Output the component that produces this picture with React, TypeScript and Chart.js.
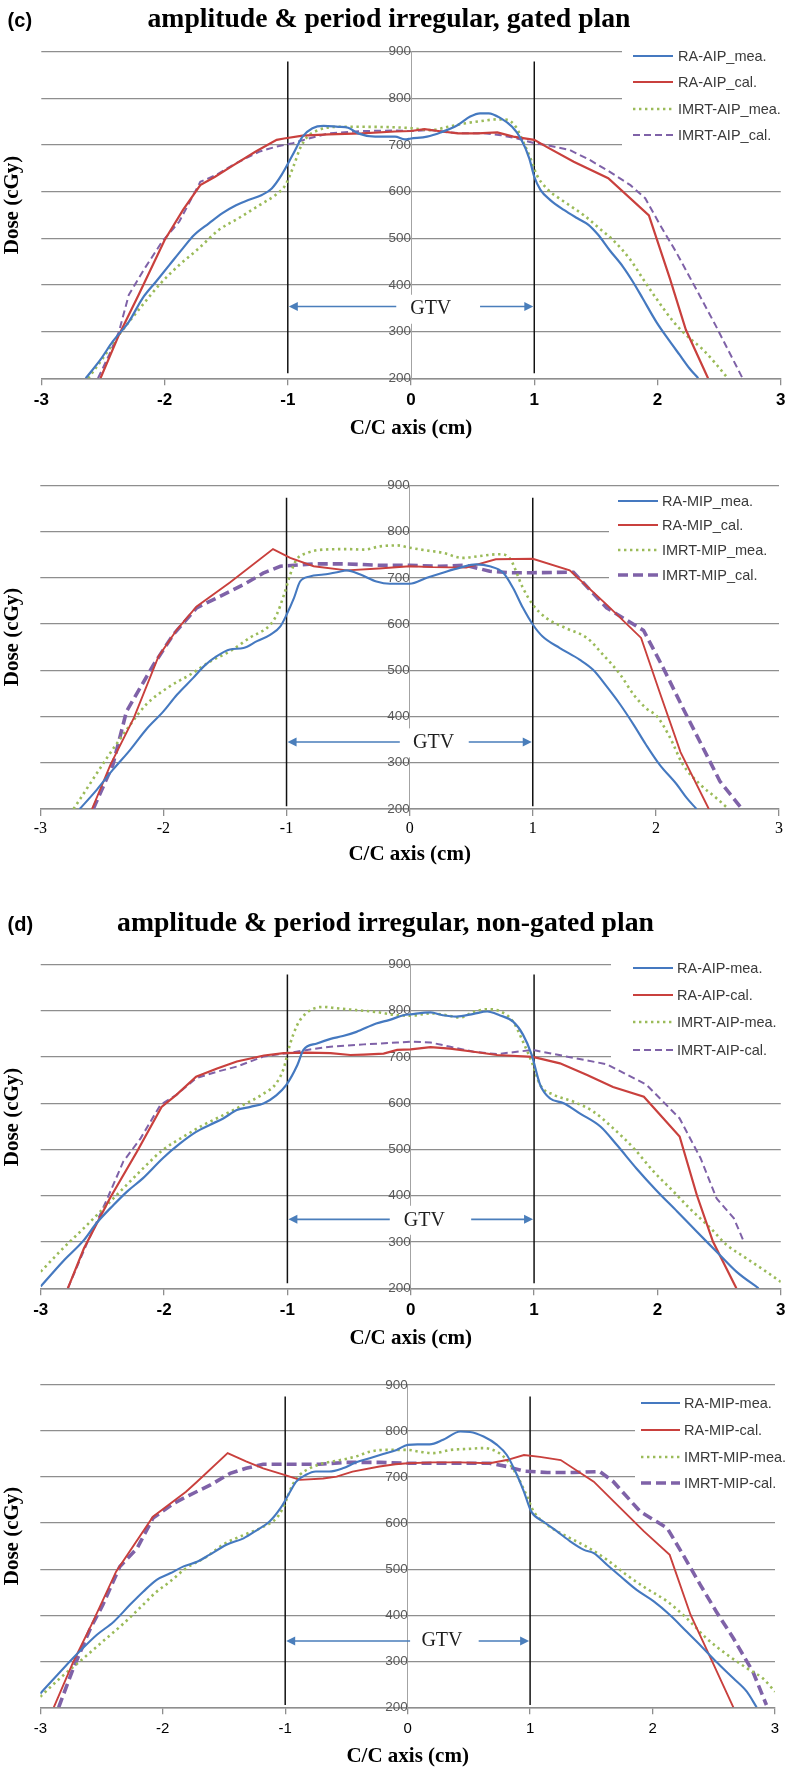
import React, { useEffect, useRef } from 'react';
import { Chart, registerables } from 'chart.js';

Chart.register(...registerables);

type Pt = [number, number];

// ---------------- data ----------------
const xAxisMin = -3;
const xAxisMax = 3;
const yAxisMin = 200;
const yAxisMax = 900;

const cLabels = ['RA-AIP_mea.', 'RA-AIP_cal.', 'IMRT-AIP_mea.', 'IMRT-AIP_cal.'];
const c2Labels = ['RA-MIP_mea.', 'RA-MIP_cal.', 'IMRT-MIP_mea.', 'IMRT-MIP_cal.'];
const dLabels = ['RA-AIP-mea.', 'RA-AIP-cal.', 'IMRT-AIP-mea.', 'IMRT-AIP-cal.'];
const d2Labels = ['RA-MIP-mea.', 'RA-MIP-cal.', 'IMRT-MIP-mea.', 'IMRT-MIP-cal.'];

// panel (c) top: AIP
const cRaMea: Pt[] = [[-2.64,200],[-2.52,240],[-2.42,279],[-2.29,321],[-2.18,371],[-2.07,407],[-1.96,443],[-1.85,479],[-1.76,507],[-1.64,532],[-1.53,554],[-1.42,571],[-1.32,582],[-1.21,593],[-1.13,607],[-1.05,636],[-0.96,679],[-0.88,718],[-0.80,736],[-0.71,741],[-0.59,739],[-0.51,737],[-0.43,725],[-0.29,718],[-0.13,718],[-0.05,712],[0.0,714],[0.13,718],[0.24,727],[0.38,743],[0.48,761],[0.56,768],[0.63,768],[0.73,757],[0.82,739],[0.89,714],[0.96,671],[1.0,632],[1.05,604],[1.13,582],[1.24,561],[1.35,543],[1.44,529],[1.52,507],[1.61,475],[1.72,439],[1.80,407],[1.88,371],[1.99,321],[2.10,279],[2.18,250],[2.26,221],[2.33,200]];
const cRaCal: Pt[] = [[-2.52,200],[-2.37,293],[-2.21,379],[-2.0,496],[-1.85,561],[-1.71,614],[-1.59,632],[-1.44,657],[-1.26,686],[-1.09,711],[-1.03,714],[-0.88,720],[-0.67,723],[-0.40,725],[-0.13,729],[0.0,730],[0.11,734],[0.22,730],[0.38,725],[0.54,725],[0.70,727],[0.83,718],[1.0,711],[1.10,696],[1.32,664],[1.60,629],[1.93,549],[2.10,414],[2.23,304],[2.41,200]];
const cImMea: Pt[] = [[-2.62,200],[-2.50,243],[-2.37,293],[-2.20,350],[-2.03,404],[-1.88,443],[-1.72,479],[-1.56,518],[-1.40,543],[-1.23,571],[-1.10,593],[-1.02,614],[-0.95,657],[-0.90,693],[-0.84,718],[-0.75,732],[-0.61,739],[-0.40,739],[-0.13,738],[0.0,736],[0.16,732],[0.30,739],[0.43,746],[0.56,751],[0.70,755],[0.78,754],[0.85,739],[0.91,707],[0.97,671],[1.02,636],[1.10,607],[1.24,579],[1.40,550],[1.53,521],[1.64,496],[1.78,454],[1.88,414],[1.99,371],[2.13,321],[2.23,293],[2.37,261],[2.47,232],[2.57,200]];
const cImCal: Pt[] = [[-2.54,200],[-2.45,250],[-2.37,300],[-2.29,379],[-2.16,436],[-2.02,493],[-1.88,536],[-1.71,621],[-1.58,636],[-1.42,661],[-1.23,686],[-1.10,696],[-0.96,704],[-0.83,714],[-0.67,725],[-0.40,730],[-0.13,731],[0.0,730],[0.16,732],[0.30,727],[0.43,725],[0.59,725],[0.73,721],[0.86,714],[1.0,704],[1.10,700],[1.29,689],[1.45,668],[1.61,643],[1.78,614],[1.90,586],[2.02,529],[2.15,471],[2.31,393],[2.47,314],[2.58,257],[2.69,200]];

// panel (c) bottom: MIP
const c2RaMea: Pt[] = [[-2.68,200],[-2.54,242],[-2.41,285],[-2.27,328],[-2.14,372],[-2.0,411],[-1.89,447],[-1.76,483],[-1.67,509],[-1.57,530],[-1.46,545],[-1.35,548],[-1.24,563],[-1.13,577],[-1.05,595],[-1.0,620],[-0.94,656],[-0.89,692],[-0.81,703],[-0.70,707],[-0.59,712],[-0.51,716],[-0.40,707],[-0.27,692],[-0.16,687],[-0.05,687],[0.0,687],[0.14,700],[0.27,711],[0.41,722],[0.54,729],[0.65,725],[0.76,711],[0.84,678],[0.92,635],[1.0,599],[1.08,573],[1.22,548],[1.38,523],[1.49,501],[1.60,465],[1.71,426],[1.82,382],[1.92,339],[2.03,296],[2.17,253],[2.25,224],[2.33,200]];
const c2RaCal: Pt[] = [[-2.58,200],[-2.43,296],[-2.24,397],[-2.04,530],[-1.89,588],[-1.73,638],[-1.46,690],[-1.11,762],[-0.97,743],[-0.78,725],[-0.51,716],[-0.25,720],[0.0,725],[0.19,723],[0.46,722],[0.70,740],[1.0,741],[1.30,716],[1.60,642],[1.88,570],[2.03,453],[2.20,323],[2.43,200]];
const c2ImMea: Pt[] = [[-2.73,200],[-2.60,253],[-2.46,310],[-2.27,382],[-2.14,426],[-1.95,465],[-1.78,491],[-1.62,519],[-1.46,541],[-1.30,570],[-1.13,599],[-1.08,620],[-1.02,664],[-0.97,707],[-0.92,739],[-0.83,754],[-0.70,761],[-0.51,762],[-0.37,761],[-0.24,768],[-0.10,770],[0.0,765],[0.14,759],[0.27,754],[0.43,743],[0.57,747],[0.73,751],[0.81,743],[0.92,678],[1.0,642],[1.11,613],[1.27,591],[1.44,570],[1.57,534],[1.71,491],[1.82,447],[1.92,418],[2.01,400],[2.11,357],[2.22,296],[2.36,253],[2.49,224],[2.59,200]];
const c2ImCal: Pt[] = [[-2.57,200],[-2.41,296],[-2.30,411],[-2.08,512],[-1.92,577],[-1.73,635],[-1.57,656],[-1.35,685],[-1.19,710],[-1.05,725],[-0.78,730],[-0.51,730],[-0.24,727],[0.0,727],[0.24,725],[0.46,727],[0.65,714],[0.81,711],[1.0,711],[1.33,712],[1.60,635],[1.90,586],[2.06,505],[2.22,418],[2.41,318],[2.52,260],[2.70,200]];

// panel (d) top: AIP
const dRaMea: Pt[] = [[-3.0,204],[-2.82,258],[-2.65,304],[-2.55,340],[-2.41,380],[-2.30,409],[-2.17,438],[-2.01,481],[-1.87,513],[-1.74,538],[-1.63,553],[-1.52,567],[-1.41,585],[-1.30,592],[-1.19,600],[-1.09,617],[-1.01,639],[-0.92,682],[-0.87,715],[-0.76,729],[-0.65,739],[-0.55,745],[-0.44,754],[-0.28,772],[-0.17,780],[-0.06,790],[0.0,792],[0.16,796],[0.26,790],[0.37,787],[0.51,793],[0.62,798],[0.72,790],[0.83,776],[0.91,748],[0.98,705],[1.05,639],[1.13,610],[1.24,600],[1.37,578],[1.54,549],[1.67,510],[1.83,459],[1.99,412],[2.16,366],[2.32,322],[2.48,279],[2.64,236],[2.82,200]];
const dRaCal: Pt[] = [[-2.78,200],[-2.65,286],[-2.44,394],[-2.22,495],[-2.02,592],[-1.90,618],[-1.74,657],[-1.57,675],[-1.41,690],[-1.19,703],[-1.03,708],[-0.84,709],[-0.65,708],[-0.49,704],[-0.38,705],[-0.22,707],[-0.11,715],[0.0,716],[0.16,721],[0.32,718],[0.51,711],[0.70,704],[0.99,700],[1.21,686],[1.43,661],[1.64,635],[1.89,614],[2.18,528],[2.32,401],[2.45,301],[2.64,200]];
const dImMea: Pt[] = [[-3.0,236],[-2.82,286],[-2.65,330],[-2.49,373],[-2.33,416],[-2.17,459],[-2.01,499],[-1.84,528],[-1.68,553],[-1.52,574],[-1.36,596],[-1.19,621],[-1.09,643],[-1.03,675],[-0.98,726],[-0.92,769],[-0.84,796],[-0.71,808],[-0.60,805],[-0.44,801],[-0.28,797],[-0.11,790],[0.0,789],[0.16,794],[0.29,790],[0.40,785],[0.51,797],[0.62,803],[0.72,799],[0.83,776],[0.91,733],[0.99,683],[1.05,639],[1.16,618],[1.32,603],[1.48,582],[1.64,546],[1.81,502],[1.97,452],[2.13,409],[2.26,373],[2.43,330],[2.56,294],[2.72,265],[2.86,240],[3.0,214]];
const dImCal: Pt[] = [[-2.78,200],[-2.63,294],[-2.46,394],[-2.33,474],[-2.19,524],[-2.03,596],[-1.90,618],[-1.74,654],[-1.57,668],[-1.41,679],[-1.19,701],[-1.0,708],[-0.84,715],[-0.65,722],[-0.38,727],[-0.11,731],[0.0,733],[0.16,731],[0.32,722],[0.51,711],[0.70,706],[0.83,710],[0.99,715],[1.26,701],[1.59,684],[1.91,640],[2.18,567],[2.35,481],[2.48,394],[2.62,351],[2.70,301]];

// panel (d) bottom: MIP
const d2RaMea: Pt[] = [[-3.0,230],[-2.81,285],[-2.68,321],[-2.54,357],[-2.40,386],[-2.27,422],[-2.16,451],[-2.05,477],[-1.94,491],[-1.83,506],[-1.72,516],[-1.62,531],[-1.48,553],[-1.34,567],[-1.23,585],[-1.13,603],[-1.04,632],[-0.96,668],[-0.91,690],[-0.83,705],[-0.75,712],[-0.64,712],[-0.53,719],[-0.42,732],[-0.31,741],[-0.20,750],[-0.09,759],[0.0,770],[0.08,771],[0.18,771],[0.29,781],[0.43,799],[0.51,798],[0.62,788],[0.73,770],[0.81,748],[0.88,712],[0.95,668],[1.01,625],[1.11,603],[1.22,582],[1.33,560],[1.44,542],[1.52,535],[1.63,509],[1.74,484],[1.87,455],[2.01,430],[2.14,401],[2.28,364],[2.39,335],[2.52,299],[2.66,263],[2.77,234],[2.85,200]];
const d2RaCal: Pt[] = [[-2.89,200],[-2.73,299],[-2.57,386],[-2.38,495],[-2.08,614],[-1.81,668],[-1.72,690],[-1.47,752],[-1.32,734],[-1.18,719],[-1.02,706],[-0.88,694],[-0.69,697],[-0.58,701],[-0.45,712],[-0.23,723],[-0.10,728],[0.0,730],[0.21,732],[0.43,732],[0.67,730],[0.81,737],[0.95,748],[1.08,744],[1.25,737],[1.52,690],[1.74,632],[1.93,582],[2.14,531],[2.31,401],[2.50,292],[2.66,200]];
const d2ImMea: Pt[] = [[-3.0,223],[-2.84,263],[-2.68,299],[-2.49,343],[-2.32,382],[-2.19,415],[-2.05,451],[-1.94,473],[-1.81,502],[-1.64,527],[-1.51,553],[-1.34,574],[-1.18,592],[-1.07,611],[-1.02,632],[-0.94,683],[-0.88,705],[-0.80,719],[-0.69,730],[-0.55,737],[-0.42,745],[-0.31,755],[-0.20,759],[-0.09,759],[0.0,759],[0.10,755],[0.21,752],[0.35,759],[0.48,761],[0.62,763],[0.73,755],[0.81,737],[0.89,705],[0.97,661],[1.03,625],[1.14,596],[1.30,571],[1.46,549],[1.63,520],[1.79,487],[1.95,458],[2.12,430],[2.28,393],[2.44,350],[2.61,314],[2.77,285],[2.90,263],[3.0,234]];
const d2ImCal: Pt[] = [[-2.85,200],[-2.73,285],[-2.59,372],[-2.49,422],[-2.35,506],[-2.21,545],[-2.08,611],[-1.91,643],[-1.78,661],[-1.61,683],[-1.45,708],[-1.32,719],[-1.18,728],[-0.91,728],[-0.72,728],[-0.50,732],[-0.23,732],[0.0,730],[0.27,730],[0.48,730],[0.67,730],[0.81,723],[0.95,713],[1.14,710],[1.35,710],[1.57,712],[1.68,690],[1.90,625],[2.12,589],[2.25,531],[2.39,466],[2.52,408],[2.66,350],[2.82,277],[2.93,205]];

// GTV boundary lines (x, dose) and annotation values
const cGtvLeft: Pt[] = [[-1, 879], [-1, 211]];
const cGtvRight: Pt[] = [[1, 879], [1, 211]];
const c2GtvLeft: Pt[] = [[-1, 873], [-1, 206]];
const c2GtvRight: Pt[] = [[1, 873], [1, 206]];
const dGtvLeft: Pt[] = [[-1, 878], [-1, 211]];
const dGtvRight: Pt[] = [[1, 878], [1, 211]];
const d2GtvLeft: Pt[] = [[-1, 875], [-1, 205]];
const d2GtvRight: Pt[] = [[1, 875], [1, 205]];

const headingC = ['(c)', 'amplitude & period irregular, gated plan'];
const headingD = ['(d)', 'amplitude & period irregular, non-gated plan'];
const xTitle = 'C/C axis (cm)';
const yTitle = 'Dose (cGy)';
const gtvText = 'GTV';

// ---------------- styling ----------------
const BLUE = '#4579c0';
const RED = '#c9403d';
const GREEN = '#9bbb59';
const PURPLE = '#7f62a8';
const GRID = '#8e8e8e';

type LineStyle = { color: string; width: number; dash: number[]; smooth: boolean };

const thinStyles: LineStyle[] = [
  { color: BLUE, width: 2.2, dash: [], smooth: true },
  { color: RED, width: 2.2, dash: [], smooth: false },
  { color: GREEN, width: 2.6, dash: [2.4, 3.6], smooth: true },
  { color: PURPLE, width: 2, dash: [7, 4], smooth: false },
];
const thickStyles: LineStyle[] = [
  { color: BLUE, width: 2.1, dash: [], smooth: true },
  { color: RED, width: 1.9, dash: [], smooth: false },
  { color: GREEN, width: 2.6, dash: [2.4, 3.6], smooth: true },
  { color: PURPLE, width: 3.6, dash: [10, 5], smooth: false },
];

type Gtv = { labelX: number; labelY: number; arrowY: number; leftStart: number; rightStart: number };

type PanelCfg = {
  top: number;
  height: number;
  left: number;
  right: number;
  y900: number;
  y200: number;
  labels: string[];
  series: Pt[][];
  gtvLines: Pt[][];
  gtv: Gtv;
  styles: LineStyle[];
  xTickFont: { family: string; size: number; weight: string };
  xTickPad: number;
  xTitlePad: number;
  legendBox: [number, number, number, number];
  legendLine: [number, number];
  legendTextX: number;
  legendYs: number[];
  yTitleY: number;
  heading?: { tag: string; text: string; tagX: number; centerX: number; baseline: number };
};

const panels: PanelCfg[] = [
  {
    top: 0, height: 445, left: 41.3, right: 784, y900: 51.7, y200: 378.3,
    labels: cLabels, series: [cRaMea, cRaCal, cImMea, cImCal], gtvLines: [cGtvLeft, cGtvRight],
    gtv: { labelX: 0.16, labelY: 348, arrowY: 354, leftStart: -0.12, rightStart: 0.56 },
    styles: thinStyles,
    xTickFont: { family: '"Liberation Sans", Arial, sans-serif', size: 17, weight: 'bold' },
    xTickPad: 4.5, xTitlePad: 3.4,
    legendBox: [622, 42, 790, 150], legendLine: [633, 673], legendTextX: 678, legendYs: [56, 82, 109, 135],
    yTitleY: 205,
    heading: { tag: headingC[0], text: headingC[1], tagX: 7.6, centerX: 389, baseline: 27 },
  },
  {
    top: 445, height: 435, left: 40.3, right: 779, y900: 485.3, y200: 809,
    labels: c2Labels, series: [c2RaMea, c2RaCal, c2ImMea, c2ImCal], gtvLines: [c2GtvLeft, c2GtvRight],
    gtv: { labelX: 0.195, labelY: 343, arrowY: 345, leftStart: -0.08, rightStart: 0.48 },
    styles: thickStyles,
    xTickFont: { family: '"Liberation Serif", "Times New Roman", serif', size: 16, weight: 'normal' },
    xTickPad: 3.4, xTitlePad: 12.4,
    legendBox: [609, 489, 790, 584], legendLine: [618, 658], legendTextX: 662, legendYs: [501, 525, 550, 575],
    yTitleY: 637,
  },
  {
    top: 880, height: 475, left: 40.7, right: 781, y900: 964.3, y200: 1288.3,
    labels: dLabels, series: [dRaMea, dRaCal, dImMea, dImCal], gtvLines: [dGtvLeft, dGtvRight],
    gtv: { labelX: 0.11, labelY: 347, arrowY: 349, leftStart: -0.17, rightStart: 0.49 },
    styles: thinStyles,
    xTickFont: { family: '"Liberation Sans", Arial, sans-serif', size: 17, weight: 'bold' },
    xTickPad: 4.5, xTitlePad: 3.4,
    legendBox: [611, 956, 790, 1061], legendLine: [633, 673], legendTextX: 677, legendYs: [968, 995, 1022, 1050],
    yTitleY: 1117,
    heading: { tag: headingD[0], text: headingD[1], tagX: 7.5, centerX: 385.5, baseline: 931 },
  },
  {
    top: 1355, height: 416, left: 40.3, right: 775, y900: 1385, y200: 1707.3,
    labels: d2Labels, series: [d2RaMea, d2RaCal, d2ImMea, d2ImCal], gtvLines: [d2GtvLeft, d2GtvRight],
    gtv: { labelX: 0.28, labelY: 344, arrowY: 344, leftStart: 0.02, rightStart: 0.58 },
    styles: thickStyles,
    xTickFont: { family: '"Liberation Sans", Arial, sans-serif', size: 15, weight: 'normal' },
    xTickPad: 5.7, xTitlePad: 1.4,
    legendBox: [635, 1391, 790, 1488], legendLine: [641, 680], legendTextX: 684, legendYs: [1403, 1430, 1457, 1483],
    yTitleY: 1536,
  },
];

function Panel({ cfg }: { cfg: PanelCfg }) {
  const ref = useRef<HTMLCanvasElement | null>(null);

  useEffect(() => {
    const canvas = ref.current;
    if (!canvas) return;
    const T = cfg.top;

    const decor = {
      id: 'decor',
      afterDatasetsDraw(chart: any) {
        const ctx: CanvasRenderingContext2D = chart.ctx;
        const xs = chart.scales.x;
        const ys = chart.scales.y;
        const gx = (v: number) => xs.getPixelForValue(v);
        const gy = (v: number) => ys.getPixelForValue(v);
        const g = cfg.gtv;
        ctx.save();
        // white backing behind the GTV label
        ctx.fillStyle = '#ffffff';
        const ly = gy(g.labelY);
        ctx.fillRect(gx(g.leftStart) + 1, ly - 14.5, gx(g.rightStart) - gx(g.leftStart) - 2, 29);
        // arrows
        const ay = gy(g.arrowY);
        const lx = gx(-1);
        const rx = gx(1);
        ctx.strokeStyle = '#4a7ebb';
        ctx.fillStyle = '#4a7ebb';
        ctx.lineWidth = 1.6;
        ctx.beginPath();
        ctx.moveTo(gx(g.leftStart), ay);
        ctx.lineTo(lx + 8, ay);
        ctx.moveTo(gx(g.rightStart), ay);
        ctx.lineTo(rx - 8, ay);
        ctx.stroke();
        ctx.beginPath();
        ctx.moveTo(lx + 1, ay);
        ctx.lineTo(lx + 10, ay - 4.5);
        ctx.lineTo(lx + 10, ay + 4.5);
        ctx.closePath();
        ctx.fill();
        ctx.beginPath();
        ctx.moveTo(rx - 1, ay);
        ctx.lineTo(rx - 10, ay - 4.5);
        ctx.lineTo(rx - 10, ay + 4.5);
        ctx.closePath();
        ctx.fill();
        // label
        ctx.fillStyle = '#1e1e1e';
        ctx.font = '20px "Liberation Serif", "Times New Roman", serif';
        ctx.textAlign = 'center';
        ctx.textBaseline = 'middle';
        ctx.fillText(gtvText, gx(g.labelX), ly);
        ctx.restore();
      },
      afterDraw(chart: any) {
        const ctx: CanvasRenderingContext2D = chart.ctx;
        ctx.save();
        // legend
        const [bx0, by0, bx1, by1] = cfg.legendBox;
        ctx.fillStyle = '#ffffff';
        ctx.fillRect(bx0, by0 - T, bx1 - bx0, by1 - by0);
        ctx.font = '14.5px "Liberation Sans", Arial, sans-serif';
        ctx.textAlign = 'left';
        ctx.textBaseline = 'middle';
        chart.data.datasets.slice(0, 4).forEach((ds: any, i: number) => {
          const y = cfg.legendYs[i] - T;
          ctx.strokeStyle = ds.borderColor;
          ctx.lineWidth = ds.borderWidth;
          ctx.setLineDash(ds.borderDash || []);
          ctx.beginPath();
          ctx.moveTo(cfg.legendLine[0], y);
          ctx.lineTo(cfg.legendLine[1], y);
          ctx.stroke();
          ctx.setLineDash([]);
          ctx.fillStyle = '#3a3a3a';
          ctx.fillText(ds.label, cfg.legendTextX, y + 0.5);
        });
        // y-axis title
        ctx.save();
        ctx.translate(12.5, cfg.yTitleY - T);
        ctx.rotate(-Math.PI / 2);
        ctx.fillStyle = '#000000';
        ctx.font = 'bold 21px "Liberation Serif", "Times New Roman", serif';
        ctx.textAlign = 'center';
        ctx.textBaseline = 'middle';
        ctx.fillText(yTitle, 0, 0);
        ctx.restore();
        // heading
        if (cfg.heading) {
          const h = cfg.heading;
          ctx.fillStyle = '#000000';
          ctx.textBaseline = 'alphabetic';
          ctx.textAlign = 'left';
          ctx.font = 'bold 20px "Liberation Sans", Arial, sans-serif';
          ctx.fillText(h.tag, h.tagX, h.baseline - T);
          ctx.textAlign = 'center';
          ctx.font = 'bold 27.7px "Liberation Serif", "Times New Roman", serif';
          ctx.fillText(h.text, h.centerX, h.baseline - T);
        }
        ctx.restore();
      },
    };

    const datasets: any[] = cfg.series.map((pts, i) => {
      const st = cfg.styles[i];
      return {
        label: cfg.labels[i],
        data: pts.map(([x, y]) => ({ x, y })),
        showLine: true,
        borderColor: st.color,
        backgroundColor: st.color,
        borderWidth: st.width,
        borderDash: st.dash,
        pointRadius: 0,
        pointHoverRadius: 0,
        fill: false,
        cubicInterpolationMode: st.smooth ? 'monotone' : 'default',
        tension: 0,
      };
    });
    cfg.gtvLines.forEach((pts) => {
      datasets.push({
        label: '',
        data: pts.map(([x, y]) => ({ x, y })),
        showLine: true,
        borderColor: '#111111',
        borderWidth: 1.5,
        pointRadius: 0,
        pointHoverRadius: 0,
        fill: false,
        tension: 0,
      });
    });

    const xScaleHeight = cfg.height - (cfg.y200 - T);

    const chart = new Chart(canvas, {
      type: 'scatter',
      data: { datasets },
      options: {
        responsive: false,
        animation: false,
        devicePixelRatio: 1,
        events: [],
        layout: {
          padding: { left: cfg.left, right: 790 - cfg.right, top: cfg.y900 - T, bottom: 0 },
        },
        plugins: {
          legend: { display: false },
          tooltip: { enabled: false },
          title: { display: false },
        },
        scales: {
          x: {
            type: 'linear',
            position: 'bottom',
            min: xAxisMin,
            max: xAxisMax,
            afterFit: (s: any) => {
              s.height = xScaleHeight;
            },
            ticks: {
              stepSize: 1,
              autoSkip: false,
              maxRotation: 0,
              padding: cfg.xTickPad,
              color: '#000000',
              font: cfg.xTickFont as any,
            },
            grid: {
              display: true,
              drawOnChartArea: false,
              drawTicks: true,
              tickLength: 7,
              color: GRID,
              lineWidth: 1.3,
            },
            border: { display: true, color: GRID, width: 1.5 },
            title: {
              display: true,
              text: xTitle,
              color: '#000000',
              font: { family: '"Liberation Serif", "Times New Roman", serif', size: 21, weight: 'bold' },
              padding: { top: 0, bottom: cfg.xTitlePad },
            },
          },
          y: {
            type: 'linear',
            position: { x: 0 } as any,
            min: yAxisMin,
            max: yAxisMax,
            ticks: {
              stepSize: 100,
              padding: 18,
              color: '#5a5a5a',
              font: { family: '"Liberation Sans", Arial, sans-serif', size: 13.5 },
            },
            grid: { color: GRID, lineWidth: 1.3, drawTicks: false },
            border: { display: true, color: '#a3a3a3', width: 1 },
          },
        },
      } as any,
      plugins: [decor],
    });
    return () => chart.destroy();
  }, [cfg]);

  return (
    <canvas
      ref={ref}
      width={790}
      height={cfg.height}
      style={{ position: 'absolute', left: 0, top: cfg.top, display: 'block' }}
    />
  );
}

export default function App() {
  useEffect(() => {
    document.body.style.margin = '0';
    document.body.style.background = '#ffffff';
  }, []);
  return (
    <div style={{ position: 'relative', width: 790, height: 1771, background: '#ffffff', overflow: 'hidden' }}>
      {panels.map((p, i) => (
        <Panel key={i} cfg={p} />
      ))}
    </div>
  );
}
